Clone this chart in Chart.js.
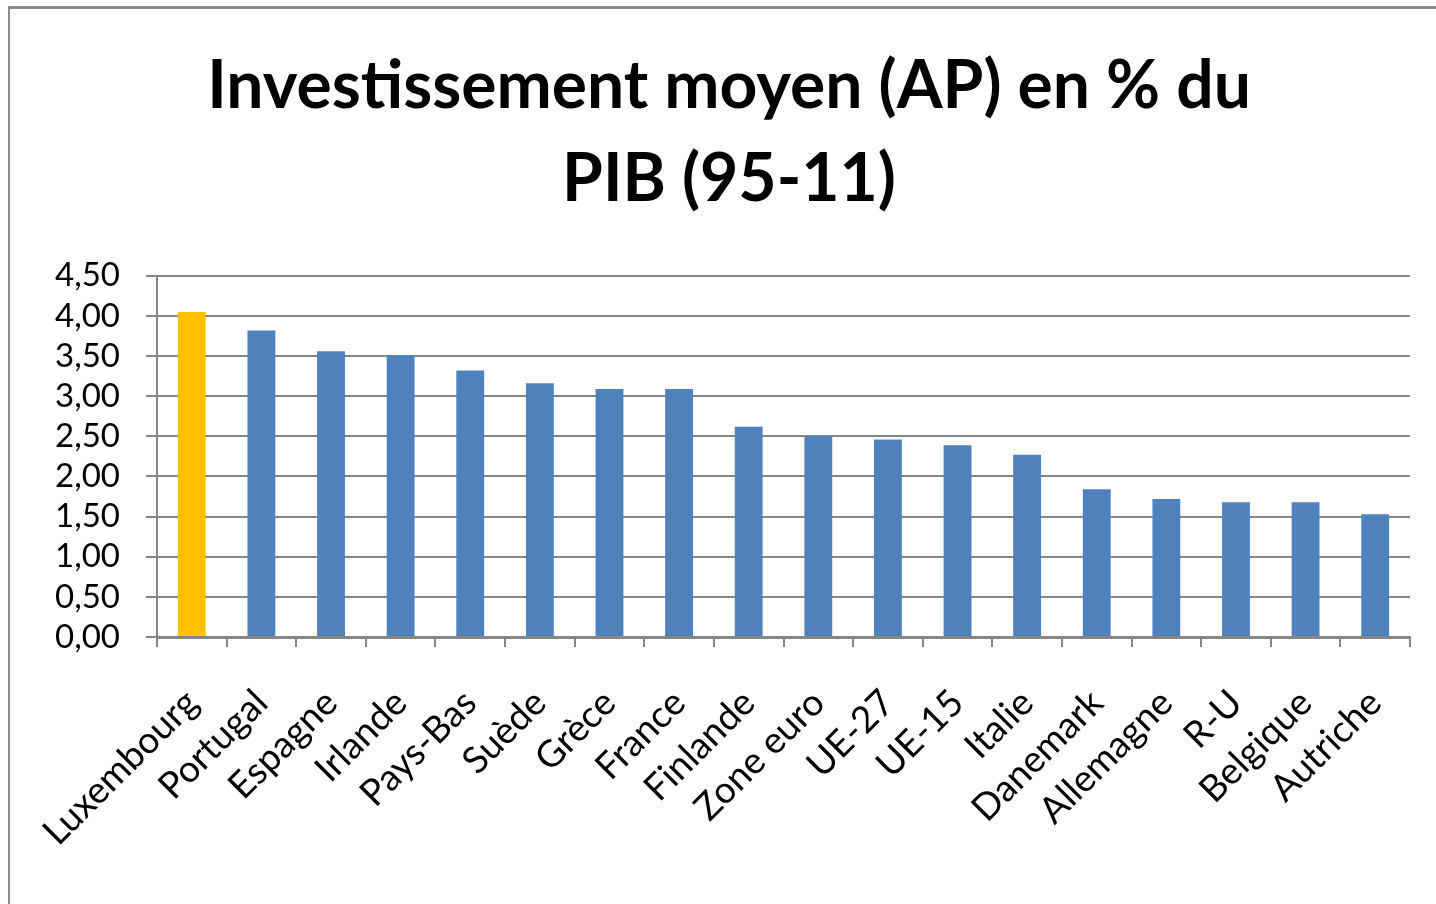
<!DOCTYPE html>
<html>
<head>
<meta charset="utf-8">
<script src="https://cdn.jsdelivr.net/npm/chart.js@4/dist/chart.umd.min.js"></script>
<style>
  html, body { margin: 0; padding: 0; background: #fff; overflow: hidden; }
  #frame {
    position: absolute; left: 8px; top: 6px; width: 1500px; height: 1000px;
    border-left: 2px solid #8c8c8c; border-top: 3px solid #8c8c8c;
  }
  #myChart { position: absolute; left: 0; top: 0; }
</style>
</head>
<body>
<div id="frame"></div>
<canvas id="myChart" width="1436" height="904"></canvas>
<script>
const titleLines = ["Investissement moyen (AP) en % du", "PIB (95-11)"];
const categories = ["Luxembourg", "Portugal", "Espagne", "Irlande", "Pays-Bas", "Suède", "Grèce", "France", "Finlande", "Zone euro", "UE-27", "UE-15", "Italie", "Danemark", "Allemagne", "R-U", "Belgique", "Autriche"];
const values = [4.05, 3.82, 3.56, 3.51, 3.32, 3.16, 3.09, 3.09, 2.62, 2.50, 2.46, 2.39, 2.27, 1.84, 1.72, 1.68, 1.68, 1.53];
const highlighted = "Luxembourg";
const yMin = 0, yMax = 4.5, yStep = 0.5;

const gridGrey = "#868686";
const ctx = document.getElementById("myChart").getContext("2d");
new Chart(ctx, {
  type: "bar",
  data: {
    labels: categories,
    datasets: [{
      data: values,
      backgroundColor: categories.map(c => c === highlighted ? "#FFC000" : "#4F81BD"),
      borderWidth: 0,
      categoryPercentage: 0.8,
      barPercentage: 0.5
    }]
  },
  options: {
    responsive: false,
    devicePixelRatio: 1,
    animation: false,
    // left padding shifts the title centre to match the frame
    layout: { padding: { left: 48, right: 26, top: 0, bottom: 0 } },
    plugins: {
      legend: { display: false },
      tooltip: { enabled: false },
      title: {
        display: true,
        text: titleLines,
        color: "#000",
        font: { family: "Lato", size: 66, weight: "bold", lineHeight: 1.4 },
        padding: { top: 41, bottom: 50 }
      }
    },
    scales: {
      y: {
        min: yMin, max: yMax,
        ticks: {
          stepSize: yStep,
          autoSkip: false,
          color: "#000",
          padding: 26,
          font: { family: "Lato", size: 33 },
          callback: v => v.toFixed(2).replace(".", ",")
        },
        grid: { color: gridGrey, lineWidth: 2, tickLength: 11 },
        border: { color: gridGrey, width: 2 },
        afterFit: s => { s.width = 109; }
      },
      x: {
        ticks: {
          color: "#000",
          minRotation: 45, maxRotation: 45,
          autoSkip: false,
          padding: 34,
          font: { family: "Lato", size: 37 }
        },
        grid: { drawOnChartArea: false, color: gridGrey, lineWidth: 2, tickLength: 10, offset: true },
        border: { color: gridGrey, width: 3 },
        afterFit: s => { s.height = 267; s.paddingRight = 0; }
      }
    }
  }
});
</script>
</body>
</html>
